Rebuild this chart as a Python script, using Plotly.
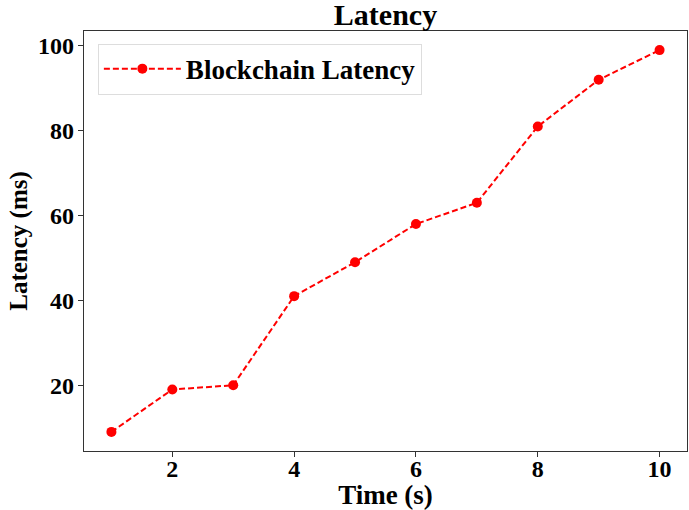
import plotly.graph_objects as go

time_s = [1, 2, 3, 4, 5, 6, 7, 8, 9, 10]
latency_ms = [9, 19, 20, 41, 49, 58, 63, 81, 92, 99]
x_ticks = [2, 4, 6, 8, 10]
y_ticks = [20, 40, 60, 80, 100]

FONT = "Liberation Serif"

fig = go.Figure()
fig.add_trace(go.Scatter(
    x=time_s, y=latency_ms, mode="lines+markers",
    name="<b>Blockchain Latency</b>",
    line=dict(color="#ff0000", width=2, dash="6px,3px"),
    marker=dict(color="#ff0000", size=10, symbol="circle"),
))

axis_common = dict(
    showgrid=False, zeroline=False, showline=True, linecolor="#333333", linewidth=1.2,
    mirror=True, ticks="outside", ticklen=5, tickwidth=1, tickcolor="#333333",
    automargin=False,
    tickfont=dict(family=FONT, size=24, color="black", weight="bold"),
)

fig.update_layout(
    template="none",
    width=689, height=510,
    margin=dict(l=84, r=2, t=31, b=59, autoexpand=False),
    paper_bgcolor="white", plot_bgcolor="white",
    title=dict(text="<b>Latency</b>", x=0.5, xanchor="center", xref="paper",
               y=1 - 14 / 510, yanchor="middle", yref="container",
               font=dict(family=FONT, size=30, color="black")),
    xaxis=dict(range=[0.55, 10.45], tickvals=x_ticks, ticklabelstandoff=-9,
               title=dict(text="<b>Time (s)</b>", standoff=14,
                          font=dict(family=FONT, size=27, color="black")),
               **axis_common),
    yaxis=dict(range=[4.5, 103.5], tickvals=y_ticks, ticklabelstandoff=-1,
               title=dict(text="<b>Latency (ms)</b>", standoff=3,
                          font=dict(family=FONT, size=25, color="black")),
               **axis_common),
    legend=dict(x=0.023, y=0.970, xanchor="left", yanchor="top",
                bgcolor="white", bordercolor="#dddddd", borderwidth=1,
                font=dict(family=FONT, size=27, color="black"),
                itemwidth=77),
    showlegend=True,
)

fig.write_html("out.html", config={"displayModeBar": False},
               post_script="document.body.style.margin='0';")
